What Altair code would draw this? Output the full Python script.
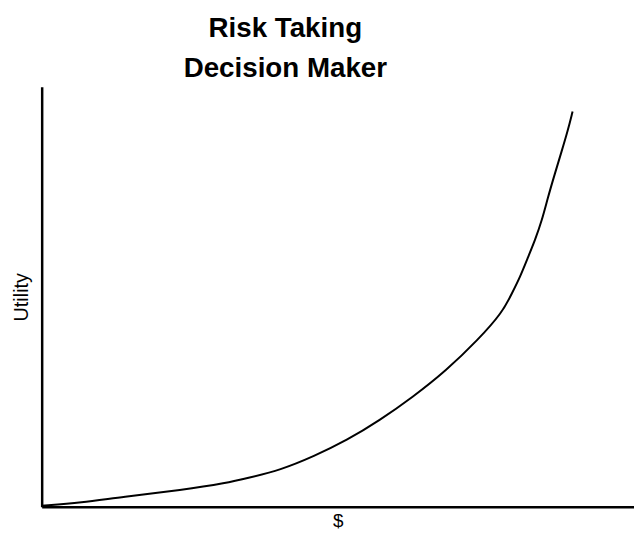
import altair as alt
import pandas as pd

# Values (arbitrary units: $ vs utility)
dollars = [0, 40, 81, 142, 187, 208, 241, 275, 308, 341, 375, 408, 441, 465,
           475, 483, 491, 498, 505, 511, 518, 525, 531, 536]
utility = [1, 4, 10, 17, 24, 29, 37, 51, 67, 87, 111, 137, 169, 196,
           216, 232, 252, 269, 289, 312, 336, 359, 379, 399]

df = pd.DataFrame({"dollars": dollars, "utility": utility})

FONT = "Liberation Sans"

chart = (
    alt.Chart(df)
    .mark_line(color="black", strokeWidth=2, interpolate="basis")
    .encode(
        x=alt.X(
            "dollars:Q",
            scale=alt.Scale(domain=[0, 598], nice=False, zero=False),
            axis=alt.Axis(
                title="$", labels=False, ticks=False, grid=False,
                domainColor="black", domainWidth=2.5,
                titleFont=FONT, titleFontSize=19, titleFontWeight="normal",
                titleColor="black", titlePadding=5,
            ),
        ),
        y=alt.Y(
            "utility:Q",
            scale=alt.Scale(domain=[0, 424], nice=False, zero=False),
            axis=alt.Axis(
                title="Utility", labels=False, ticks=False, grid=False,
                domainColor="black", domainWidth=2.5,
                titleFont=FONT, titleFontSize=20, titleFontWeight="normal",
                titleColor="black", titlePadding=10,
            ),
        ),
    )
    .properties(
        width=598,
        height=424,
        title=alt.TitleParams(
            text=["Risk Taking", "Decision Maker"],
            font=FONT, fontSize=28, fontWeight="bold", color="black",
            anchor="middle", frame="group", dx=-53, lineHeight=40, offset=4,
        ),
        autosize=alt.AutoSizeParams(type="none"),
        padding={"left": 34, "top": 77, "right": 0, "bottom": 25},
    )
    .configure_view(stroke=None)
)

chart.save("out.html", embed_options={"renderer": "svg", "actions": False})
